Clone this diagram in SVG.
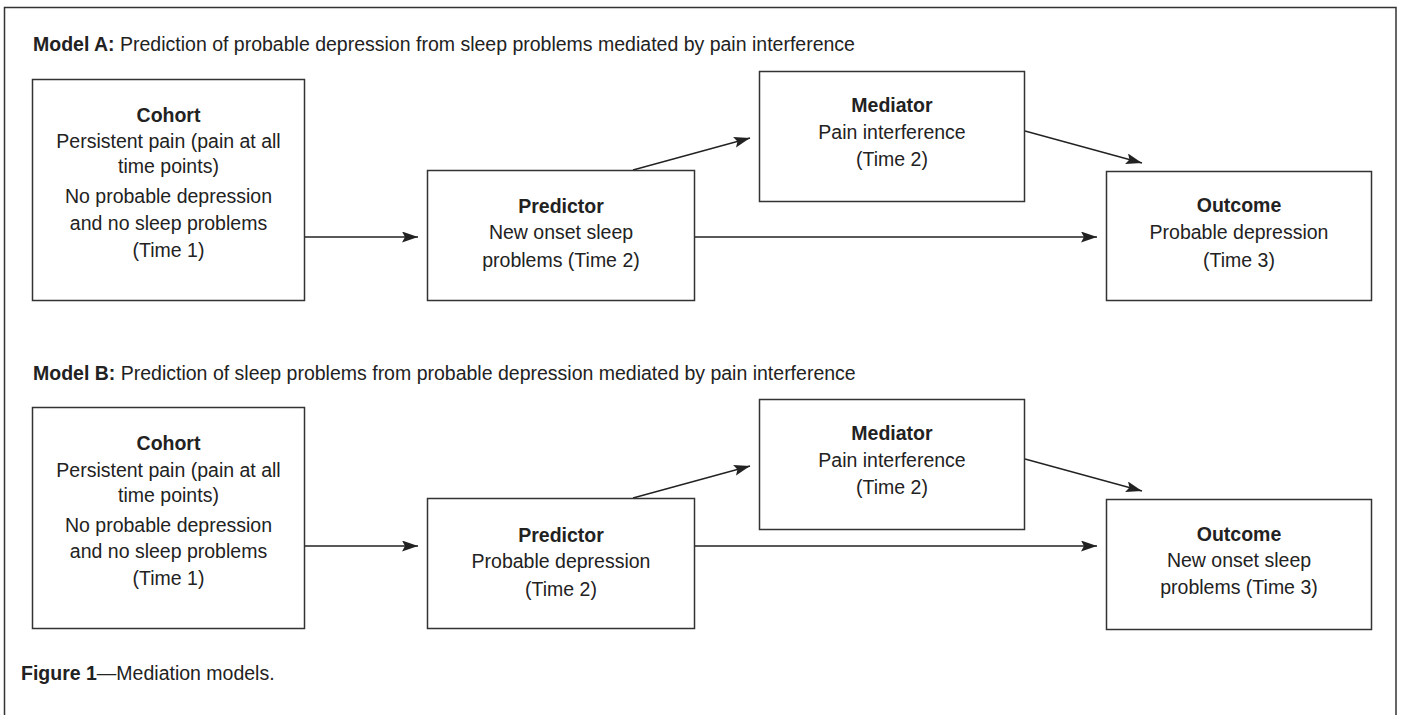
<svg xmlns="http://www.w3.org/2000/svg" width="1401" height="715" viewBox="0 0 1401 715">
<style>
text{font-family:"Liberation Sans",Arial,sans-serif;font-size:19.5px;fill:#222}
.c{text-anchor:middle}
.b{font-weight:bold}
.box{fill:#fff;stroke:#333;stroke-width:1.5}
.ln{fill:none;stroke:#222;stroke-width:1.4}
</style>
<defs>
<marker id="ah" markerUnits="userSpaceOnUse" markerWidth="18" markerHeight="12" refX="16" refY="5.5" orient="auto">
<path d="M0,0 L16,5.5 L0,11 L3,5.5 z" fill="#222"/>
</marker>
</defs>
<rect x="4.5" y="7.5" width="1391.5" height="720" fill="#fff" stroke="#333" stroke-width="1.5"/>

<text x="33" y="51"><tspan class="b">Model A:</tspan> Prediction of probable depression from sleep problems mediated by pain interference</text>
<text x="33" y="380"><tspan class="b">Model B:</tspan> Prediction of sleep problems from probable depression mediated by pain interference</text>
<text x="21" y="680"><tspan class="b">Figure 1</tspan>—Mediation models.</text>

<g id="connectors">
<line class="ln" x1="305" y1="237" x2="418" y2="237" marker-end="url(#ah)"/>
<line class="ln" x1="695" y1="237" x2="1097" y2="237" marker-end="url(#ah)"/>
<line class="ln" x1="633" y1="170" x2="750" y2="138" marker-end="url(#ah)"/>
<line class="ln" x1="1025" y1="131" x2="1142" y2="163" marker-end="url(#ah)"/>
<line class="ln" x1="305" y1="546" x2="418" y2="546" marker-end="url(#ah)"/>
<line class="ln" x1="695" y1="546" x2="1097" y2="546" marker-end="url(#ah)"/>
<line class="ln" x1="633" y1="498" x2="750" y2="466" marker-end="url(#ah)"/>
<line class="ln" x1="1025" y1="459" x2="1142" y2="491" marker-end="url(#ah)"/>
</g>

<g id="cohortA">
<rect class="box" x="32.5" y="79.5" width="272" height="221"/>
<text class="c b" x="168.5" y="122">Cohort</text>
<text class="c" x="168.5" y="148">Persistent pain (pain at all</text>
<text class="c" x="168.5" y="173">time points)</text>
<text class="c" x="168.5" y="203">No probable depression</text>
<text class="c" x="168.5" y="230">and no sleep problems</text>
<text class="c" x="168.5" y="257">(Time 1)</text>
</g>
<g id="predictorA">
<rect class="box" x="427.5" y="170.5" width="267" height="130"/>
<text class="c b" x="561" y="213">Predictor</text>
<text class="c" x="561" y="239">New onset sleep</text>
<text class="c" x="561" y="267">problems (Time 2)</text>
</g>
<g id="mediatorA">
<rect class="box" x="759.5" y="71.5" width="265" height="130"/>
<text class="c b" x="892" y="112">Mediator</text>
<text class="c" x="892" y="139">Pain interference</text>
<text class="c" x="892" y="166">(Time 2)</text>
</g>
<g id="outcomeA">
<rect class="box" x="1106.5" y="171.5" width="265" height="129"/>
<text class="c b" x="1239" y="212">Outcome</text>
<text class="c" x="1239" y="239">Probable depression</text>
<text class="c" x="1239" y="267">(Time 3)</text>
</g>

<g id="cohortB">
<rect class="box" x="32.5" y="407.5" width="272" height="221"/>
<text class="c b" x="168.5" y="450">Cohort</text>
<text class="c" x="168.5" y="477">Persistent pain (pain at all</text>
<text class="c" x="168.5" y="502">time points)</text>
<text class="c" x="168.5" y="532">No probable depression</text>
<text class="c" x="168.5" y="558">and no sleep problems</text>
<text class="c" x="168.5" y="585">(Time 1)</text>
</g>
<g id="predictorB">
<rect class="box" x="427.5" y="498.5" width="267" height="130"/>
<text class="c b" x="561" y="542">Predictor</text>
<text class="c" x="561" y="568">Probable depression</text>
<text class="c" x="561" y="596">(Time 2)</text>
</g>
<g id="mediatorB">
<rect class="box" x="759.5" y="399.5" width="265" height="130"/>
<text class="c b" x="892" y="440">Mediator</text>
<text class="c" x="892" y="467">Pain interference</text>
<text class="c" x="892" y="494">(Time 2)</text>
</g>
<g id="outcomeB">
<rect class="box" x="1106.5" y="499.5" width="265" height="130"/>
<text class="c b" x="1239" y="541">Outcome</text>
<text class="c" x="1239" y="567">New onset sleep</text>
<text class="c" x="1239" y="594">problems (Time 3)</text>
</g>
</svg>
